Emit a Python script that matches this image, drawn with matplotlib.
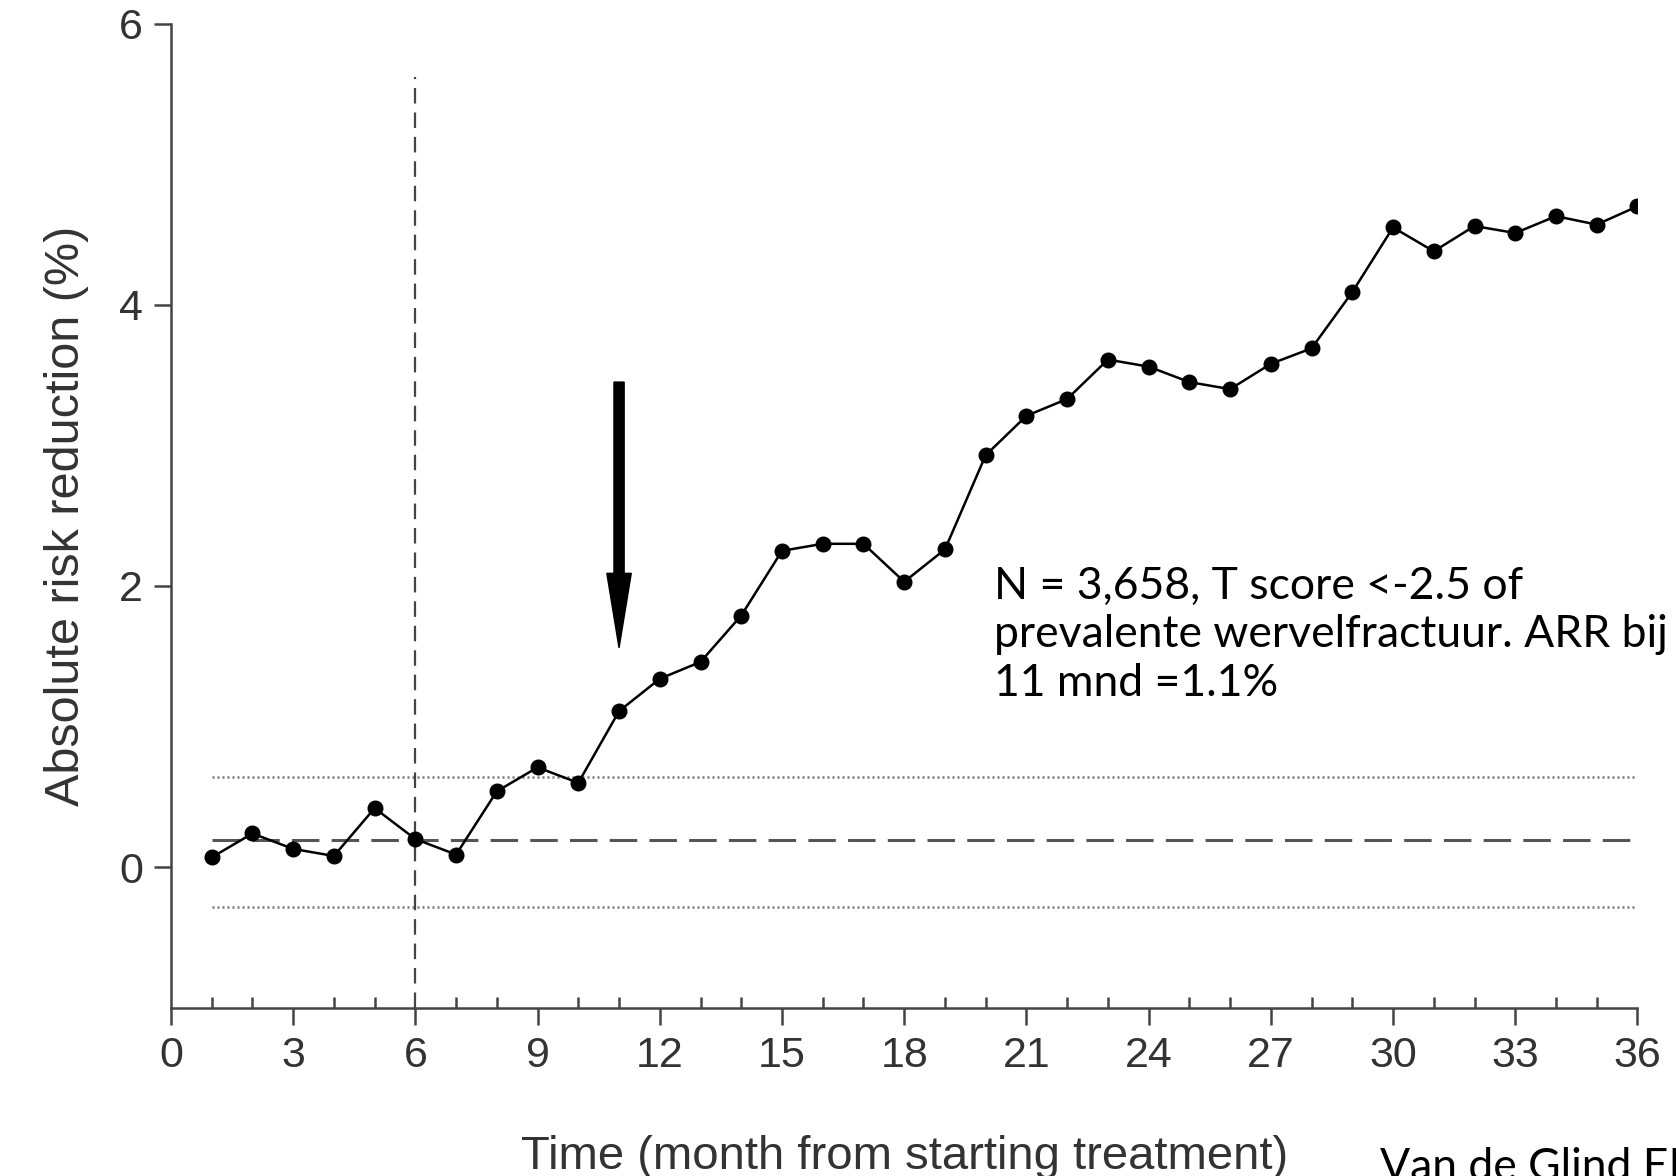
import matplotlib
matplotlib.use('Agg')
import matplotlib.pyplot as plt
import matplotlib.ticker as ticker
import numpy as np

# months since start of treatment
MONTHS = list(range(1, 37))

# absolute risk reduction (%) per month
ARR = [0.07, 0.24, 0.13, 0.08, 0.42, 0.20, 0.09, 0.54, 0.71, 0.60,
       1.11, 1.34, 1.46, 1.79, 2.25, 2.30, 2.30, 2.03, 2.26, 2.93,
       3.21, 3.33, 3.61, 3.56, 3.45, 3.40, 3.58, 3.69, 4.09, 4.55,
       4.38, 4.56, 4.51, 4.63, 4.57, 4.70]

# reference levels
MEAN_LEVEL = 0.19
UPPER_LIMIT = 0.64
LOWER_LIMIT = -0.28

CUTOFF_MONTH = 6
ARROW_MONTH = 11

X_TICKS = list(range(0, 37, 3))
Y_TICKS = [0, 2, 4, 6]

NOTE = 'N = 3,658, T score <-2.5 of\nprevalente wervelfractuur. ARR bij\n11 mnd =1.1%'
SOURCE = 'Van de Glind EM et al.'

AXIS_GREY = '#444444'

fig = plt.figure(figsize=(16.76, 11.76), dpi=100)
ax = fig.add_axes([0.102, 0.143, 0.875, 0.837])

# reference lines
ax.plot([MONTHS[0], MONTHS[-1]], [MEAN_LEVEL] * 2, color='#555555', lw=2.2,
        linestyle=(0, (9, 4)))
for level in (UPPER_LIMIT, LOWER_LIMIT):
    ax.plot([MONTHS[0], MONTHS[-1]], [level] * 2, color='#777777', lw=1.8,
            linestyle=(0, (0.8, 1.2)))
ax.plot([CUTOFF_MONTH, CUTOFF_MONTH], [-1, 5.62], color='#444444', lw=1.6,
        linestyle=(0, (7, 4)), clip_on=False)

# data
ax.plot(MONTHS, ARR, color='black', lw=1.8, marker='o', markersize=10.5,
        markerfacecolor='black', zorder=5)

# arrow pointing at month 11
ax.arrow(ARROW_MONTH, 3.45, 0, -1.89, width=0.25, head_width=0.6,
         head_length=0.53, length_includes_head=True, color='black', zorder=6)

ax.set_xlim(0, 36)
ax.set_ylim(-1, 6)

ax.spines['top'].set_visible(False)
ax.spines['right'].set_visible(False)
for side in ('left', 'bottom'):
    ax.spines[side].set_color(AXIS_GREY)
    ax.spines[side].set_linewidth(1.8)

ax.set_xticks(X_TICKS)
ax.xaxis.set_minor_locator(ticker.MultipleLocator(1))
ax.set_yticks(Y_TICKS)
ax.tick_params(axis='x', which='major', direction='out', length=12, width=1.8,
               color=AXIS_GREY, labelsize=31, labelcolor='#333333', pad=8)
ax.tick_params(axis='x', which='minor', direction='in', length=8, width=1.8,
               color=AXIS_GREY)
ax.tick_params(axis='y', which='major', direction='out', length=12, width=1.8,
               color=AXIS_GREY, labelsize=31, labelcolor='#333333', pad=8)

for lbl in ax.get_xticklabels() + ax.get_yticklabels():
    lbl.set_family('Liberation Sans')

ax.set_xlabel('Time (month from starting treatment)', fontsize=34,
              family='Liberation Sans', color='#333333', labelpad=43)
ax.set_ylabel('Absolute risk reduction (%)', fontsize=35,
              family='Liberation Sans', color='#333333', labelpad=22)

fig.text(994 / 1676, 1 - 566 / 1176, NOTE, fontsize=32, family='Lato',
         va='top', ha='left', linespacing=1.22)
# source line runs off the bottom-right edge, as in the original slide
fig.text(1380 / 1676, 1 - 1180 / 1176, SOURCE, fontsize=32, family='Lato',
         va='baseline', ha='left')

fig.savefig('out.png', dpi=100)
plt.close(fig)
